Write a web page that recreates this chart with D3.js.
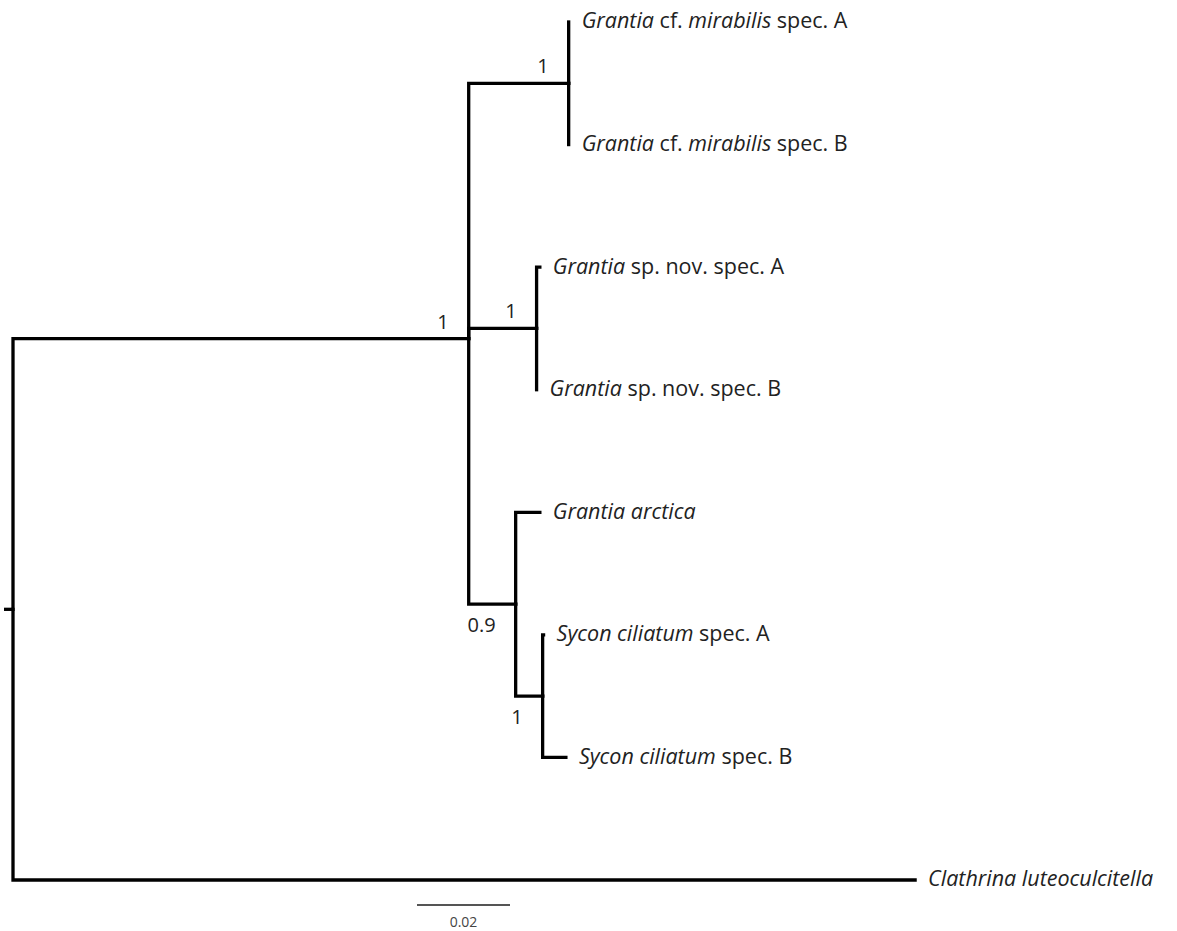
<!DOCTYPE html>
<html>
<head>
<meta charset="utf-8">
<script src="https://cdn.jsdelivr.net/npm/d3@7"></script>
<style>
  body { margin: 0; background: #fff; }
  svg { display: block; }
  text { font-family: "Open Sans", "Noto Sans", sans-serif; fill: #222; }
</style>
</head>
<body>
<svg id="tree" width="1177" height="931"></svg>
<script>
// taxa (leaf order top to bottom), with italic part and plain part of the label
const taxa = [
  { id: "mirA", parts: [["Grantia", 1], [" cf. ", 0], ["mirabilis", 1], [" spec. A", 0]] },
  { id: "mirB", parts: [["Grantia", 1], [" cf. ", 0], ["mirabilis", 1], [" spec. B", 0]] },
  { id: "novA", parts: [["Grantia", 1], [" sp. nov. spec. A", 0]] },
  { id: "novB", parts: [["Grantia", 1], [" sp. nov. spec. B", 0]] },
  { id: "arc",  parts: [["Grantia arctica", 1]] },
  { id: "sycA", parts: [["Sycon ciliatum", 1], [" spec. A", 0]] },
  { id: "sycB", parts: [["Sycon ciliatum", 1], [" spec. B", 0]] },
  { id: "cla",  parts: [["Clathrina luteoculcitella", 1]] }
];

// nodes: id, parent, branch length (substitutions/site), support
const nodes = [
  { id: "root",    parent: null,      len: 0 },
  { id: "ingroup", parent: "root",    len: 0.098,  support: "1",   pos: "above" },
  { id: "mir",     parent: "ingroup", len: 0.0215, support: "1",   pos: "above" },
  { id: "mirA",    parent: "mir",     len: 0 },
  { id: "mirB",    parent: "mir",     len: 0 },
  { id: "nov",     parent: "ingroup", len: 0.0146, support: "1",   pos: "above" },
  { id: "novA",    parent: "nov",     len: 0.0007 },
  { id: "novB",    parent: "nov",     len: 0 },
  { id: "arcSyc",  parent: "ingroup", len: 0.0101, support: "0.9", pos: "below" },
  { id: "arc",     parent: "arcSyc",  len: 0.0052 },
  { id: "syc",     parent: "arcSyc",  len: 0.0058, support: "1",   pos: "below" },
  { id: "sycA",    parent: "syc",     len: 0.0002 },
  { id: "sycB",    parent: "syc",     len: 0.005 },
  { id: "cla",     parent: "root",    len: 0.194 }
];

const scaleBarValue = 0.02;
const scaleBarLabel = "0.02";

const svg = d3.select("#tree");
const margin = { top: 22, left: 13 };

const root = d3.stratify()
  .id(d => d.id)
  .parentId(d => d.parent)(nodes);

// keep the leaf order of the taxa list
const order = new Map(taxa.map((t, i) => [t.id, i]));
root.sort((a, b) => d3.min(a.leaves(), l => order.get(l.id)) - d3.min(b.leaves(), l => order.get(l.id)));

// cumulative distance from root
root.eachBefore(n => { n.dist = n.parent ? n.parent.dist + n.data.len : 0; });

const x = d3.scaleLinear()
  .domain([0, 0.02])
  .range([margin.left, margin.left + 93]);

const y = d3.scaleLinear()
  .domain([0, taxa.length - 1])
  .range([margin.top, 880]);

// leaves evenly spaced, internal nodes at mean of children
root.eachAfter(n => {
  n.px = x(n.dist);
  n.py = n.children ? d3.mean(n.children, c => c.py) : y(order.get(n.id));
});

const g = svg.append("g");

// root stub
g.append("line")
  .attr("x1", root.px - 9).attr("x2", root.px)
  .attr("y1", root.py).attr("y2", root.py)
  .attr("stroke", "#000").attr("stroke-width", 3.3);

// elbow branches
g.selectAll("path.branch")
  .data(root.links())
  .enter()
  .append("path")
  .attr("class", "branch")
  .attr("fill", "none")
  .attr("stroke", "#000")
  .attr("stroke-width", 3.3)
  .attr("stroke-linecap", "square")
  .attr("d", d => `M${d.source.px},${d.source.py}V${d.target.py}H${d.target.px}`);

// tip labels
const tips = g.selectAll("text.tip")
  .data(root.leaves())
  .enter()
  .append("text")
  .attr("class", "tip")
  .attr("x", d => d.px + 13)
  .attr("y", d => d.py)
  .attr("dy", "0.3em")
  .style("font-size", "21.5px");

tips.each(function (d) {
  const t = taxa.find(t => t.id === d.id);
  d3.select(this).selectAll("tspan")
    .data(t.parts)
    .enter()
    .append("tspan")
    .style("font-style", p => p[1] ? "italic" : "normal")
    .style("white-space", "pre")
    .text(p => p[0]);
});

// support values
g.selectAll("text.support")
  .data(root.descendants().filter(d => d.data.support))
  .enter()
  .append("text")
  .attr("class", "support")
  .attr("x", d => d.px - 20)
  .attr("y", d => d.data.pos === "above" ? d.py - 10 : d.py + 10)
  .attr("dy", d => d.data.pos === "above" ? "0" : "0.9em")
  .attr("text-anchor", "end")
  .style("font-size", "20px")
  .text(d => d.data.support);

// scale bar
const sbX = 417;
const sbY = 905;
svg.append("line")
  .attr("x1", sbX).attr("x2", sbX + x(scaleBarValue) - x(0))
  .attr("y1", sbY).attr("y2", sbY)
  .attr("stroke", "#555").attr("stroke-width", 2);
svg.append("text")
  .attr("x", sbX + (x(scaleBarValue) - x(0)) / 2)
  .attr("y", sbY + 22)
  .attr("text-anchor", "middle")
  .style("font-size", "14px")
  .style("fill", "#444")
  .text(scaleBarLabel);
</script>
</body>
</html>
